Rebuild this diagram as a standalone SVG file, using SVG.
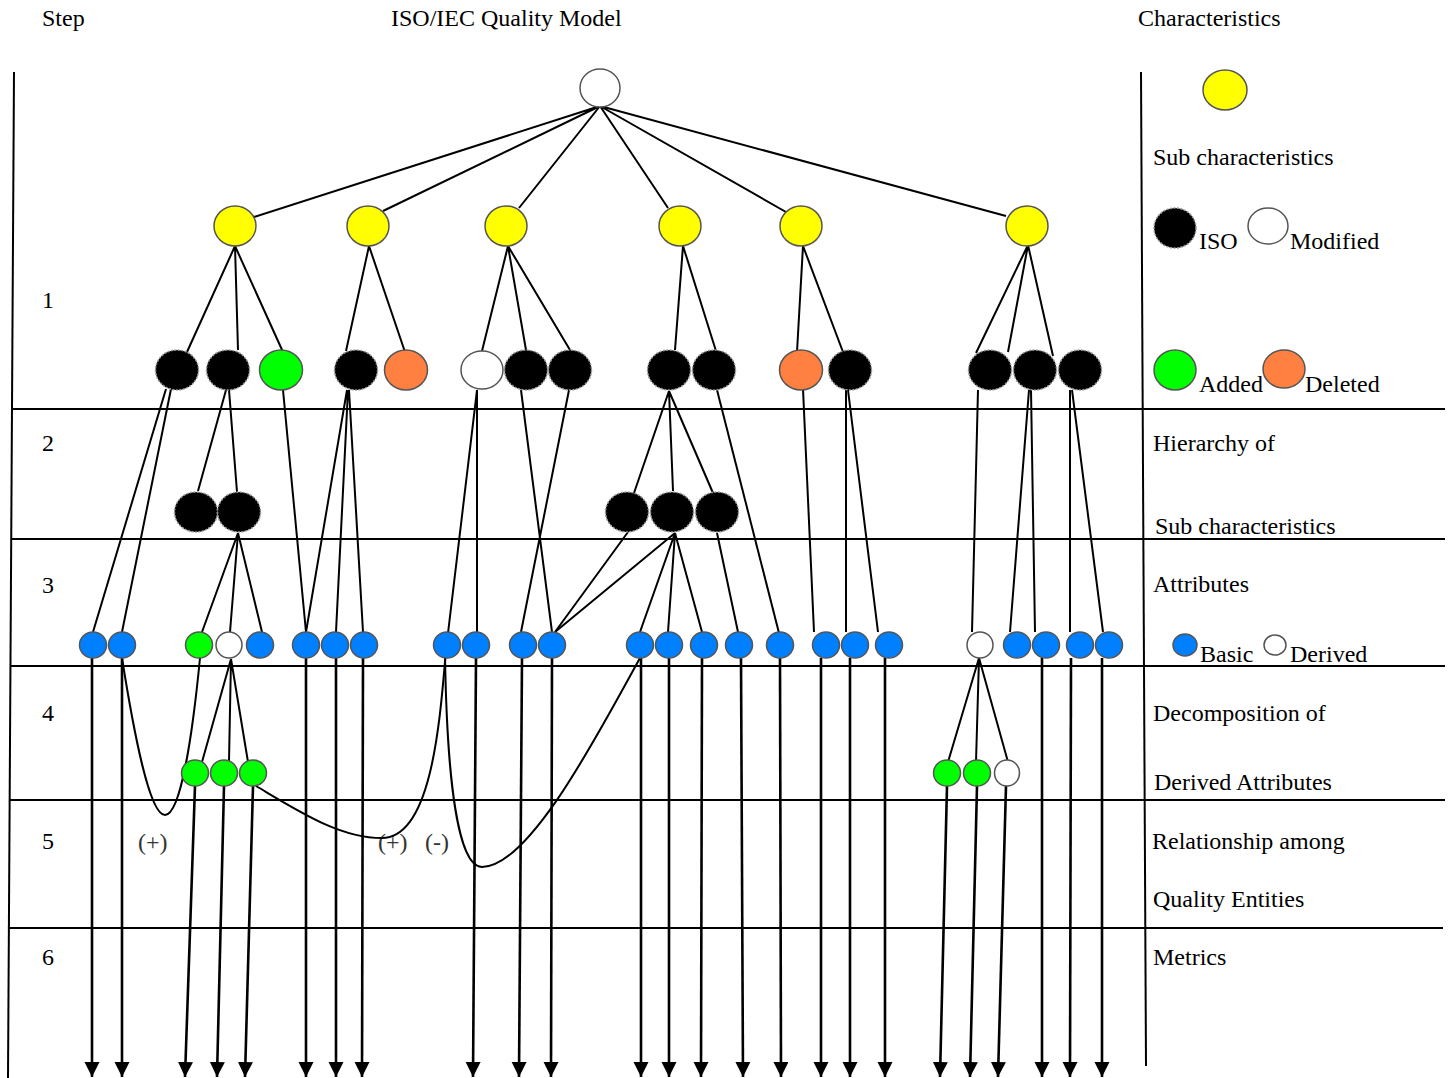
<svg xmlns="http://www.w3.org/2000/svg" width="1448" height="1078" viewBox="0 0 1448 1078">
<defs>
<style>
text{font-family:"Liberation Serif","Times New Roman",serif;font-size:24px;fill:#000}
.rel{fill:#333}
.sep{stroke:#000;stroke-width:2;fill:none}
.c{stroke:#000;stroke-width:2;fill:none}
.a{stroke:#000;stroke-width:2.6;fill:none;marker-end:url(#ah)}
.n{stroke:#555;stroke-width:1.5}
.y{fill:#ffff00}
.k{fill:#000;stroke:#999;stroke-dasharray:2 1.5}
.g{fill:#00ff00}
.o{fill:#ff8040}
.w{fill:#fff}
.b{fill:#0080ff}
</style>
<marker id="ah" markerUnits="userSpaceOnUse" markerWidth="16" markerHeight="16" refX="15" refY="7.5" orient="auto">
<path d="M0,0 L15,7.5 L0,15 z" fill="#000"/>
</marker>
</defs>
<rect width="1448" height="1078" fill="#fff"/>

<g id="grid">
<path class="sep" d="M14,72 L8,1078"/>
<path class="sep" d="M1141,72 L1146,1066"/>
<path class="sep" d="M12,409 L1445,409"/>
<path class="sep" d="M12,539 L1445,539"/>
<path class="sep" d="M10,666 L1445,666"/>
<path class="sep" d="M10,800 L1445,800"/>
<path class="sep" d="M8,928 L1443,928"/>
</g>

<g id="labels">
<text x="42" y="26">Step</text>
<text x="391" y="26">ISO/IEC Quality Model</text>
<text x="1138" y="26">Characteristics</text>
<text x="42" y="308">1</text>
<text x="42" y="451">2</text>
<text x="42" y="593">3</text>
<text x="42" y="721">4</text>
<text x="42" y="849">5</text>
<text x="42" y="965">6</text>
<text x="1153" y="165">Sub characteristics</text>
<text x="1199" y="249">ISO</text>
<text x="1290" y="249">Modified</text>
<text x="1199" y="392">Added</text>
<text x="1305" y="392">Deleted</text>
<text x="1153" y="451">Hierarchy of</text>
<text x="1155" y="534">Sub characteristics</text>
<text x="1153" y="592">Attributes</text>
<text x="1200" y="662">Basic</text>
<text x="1290" y="662">Derived</text>
<text x="1153" y="721">Decomposition of</text>
<text x="1154" y="790">Derived Attributes</text>
<text x="1152" y="849">Relationship among</text>
<text x="1153" y="907">Quality Entities</text>
<text x="1153" y="965">Metrics</text>
<text class="rel" x="138" y="850">(+)</text>
<text class="rel" x="378" y="850">(+)</text>
<text class="rel" x="425" y="850">(-)</text>
</g>

<g id="legend">
<ellipse class="n y" cx="1225" cy="90" rx="22" ry="20"/>
<ellipse class="n k" cx="1175" cy="228" rx="21" ry="20"/>
<ellipse class="n w" cx="1268" cy="226" rx="20" ry="18"/>
<ellipse class="n g" cx="1175" cy="370" rx="21" ry="20"/>
<ellipse class="n o" cx="1284" cy="369" rx="21" ry="19"/>
<ellipse class="n b" cx="1185" cy="645" rx="12" ry="11"/>
<ellipse class="n w" cx="1275" cy="645" rx="11" ry="10"/>
</g>

<g id="connectors">
<path class="c" d="M600,106 L254,217 M600,106 L383,211 M600,106 L519,208 M600,106 L668,208 M600,106 L786,212 M600,106 L1006,216"/>
<path class="c" d="M235,246 L187,352 M235,246 L238,350 M235,246 L283,352"/>
<path class="c" d="M369,246 L346,351 M369,246 L405,352"/>
<path class="c" d="M508,246 L482,351 M508,246 L526,350 M508,246 L570,350"/>
<path class="c" d="M683,246 L675,350 M683,246 L716,351"/>
<path class="c" d="M803,246 L797,352 M803,246 L843,352"/>
<path class="c" d="M1028,245 L976,353 M1028,245 L1008,352 M1028,245 L1053,356"/>
<path class="c" d="M166,389 L93,632 M171,389 L122,632"/>
<path class="c" d="M226,390 L198,491 M229,390 L237,492"/>
<path class="c" d="M283,390 L306,632"/>
<path class="c" d="M347,390 L306,632 M348,390 L336,632 M349,390 L363,632"/>
<path class="c" d="M477,390 L477,632"/>
<path class="c" d="M521,390 L552,632 M569,390 L521,632"/>
<path class="c" d="M669,391 L634,493 M669,391 L673,491 M669,391 L713,493"/>
<path class="c" d="M717,390 L779,633"/>
<path class="c" d="M803,389 L814,632"/>
<path class="c" d="M846,390 L846,632 M848,390 L878,632"/>
<path class="c" d="M978,390 L972,632"/>
<path class="c" d="M1029,390 L1010,632 M1031,390 L1035,632"/>
<path class="c" d="M1070,390 L1070,632 M1072,390 L1103,632"/>
<path class="c" d="M238,533 L202,632 M238,533 L230,632 M238,533 L262,632"/>
<path class="c" d="M628,532 L555,632"/>
<path class="c" d="M675,533 L555,632 M675,533 L640,632 M675,533 L668,632 M675,533 L702,632"/>
<path class="c" d="M717,533 L738,632"/>
<path class="c" d="M231,659 L202,762 M231,659 L229,761 M231,659 L248,762"/>
<path class="c" d="M979,658 L948,762 M979,658 L976,762 M979,658 L1008,762"/>
<path class="c" d="M477,390 L446,650 C440,720 432,838 382,838 C340,838 300,812 256,786"/>
<path class="c" d="M445,655 C447,780 458,867 482,867 C530,867 600,730 640,658"/>
<path class="c" d="M122,658 C135,740 150,815 165,815 C180,815 192,740 200,658"/>
<path class="a" d="M92,658 L92,1077"/>
<path class="a" d="M122,658 L122,1077"/>
<path class="a" d="M306,658 L306,1077"/>
<path class="a" d="M336,658 L336,1077"/>
<path class="a" d="M363,658 L362,1077"/>
<path class="a" d="M476,658 L473,1077"/>
<path class="a" d="M522,658 L519,1077"/>
<path class="a" d="M552,658 L551,1077"/>
<path class="a" d="M641,658 L641,1077"/>
<path class="a" d="M669,658 L669,1077"/>
<path class="a" d="M702,658 L701,1077"/>
<path class="a" d="M741,658 L743,1077"/>
<path class="a" d="M780,658 L781,1077"/>
<path class="a" d="M821,658 L821,1077"/>
<path class="a" d="M850,658 L850,1077"/>
<path class="a" d="M885,658 L885,1077"/>
<path class="a" d="M1042,658 L1042,1077"/>
<path class="a" d="M1071,658 L1070,1077"/>
<path class="a" d="M1102,658 L1102,1077"/>
<path class="a" d="M195,786 L185,1077"/>
<path class="a" d="M224,786 L217,1077"/>
<path class="a" d="M253,786 L245,1077"/>
<path class="a" d="M947,786 L940,1077"/>
<path class="a" d="M977,786 L970,1077"/>
<path class="a" d="M1006,786 L998,1077"/>
</g>

<g id="root"><ellipse class="n w" cx="600" cy="88" rx="20" ry="19"/></g>

<g id="ch1"><ellipse class="n y" cx="235" cy="226" rx="21" ry="20"/></g>
<g id="ch2"><ellipse class="n y" cx="368" cy="226" rx="21" ry="20"/></g>
<g id="ch3"><ellipse class="n y" cx="506" cy="226" rx="21" ry="20"/></g>
<g id="ch4"><ellipse class="n y" cx="680" cy="226" rx="21" ry="20"/></g>
<g id="ch5"><ellipse class="n y" cx="801" cy="226" rx="21" ry="20"/></g>
<g id="ch6"><ellipse class="n y" cx="1027" cy="226" rx="21" ry="20"/></g>

<g id="s1"><ellipse class="n k" cx="177" cy="370" rx="21.5" ry="20"/></g>
<g id="s2"><ellipse class="n k" cx="228" cy="370" rx="21.5" ry="20"/></g>
<g id="s3"><ellipse class="n g" cx="281" cy="370" rx="21.5" ry="20"/></g>
<g id="s4"><ellipse class="n k" cx="356" cy="370" rx="21.5" ry="20"/></g>
<g id="s5"><ellipse class="n o" cx="406" cy="370" rx="21.5" ry="20"/></g>
<g id="s6"><ellipse class="n w" cx="482" cy="370" rx="21" ry="19"/></g>
<g id="s7"><ellipse class="n k" cx="526" cy="370" rx="21.5" ry="20"/></g>
<g id="s8"><ellipse class="n k" cx="570" cy="370" rx="21.5" ry="20"/></g>
<g id="s9"><ellipse class="n k" cx="669" cy="370" rx="21.5" ry="20"/></g>
<g id="s10"><ellipse class="n k" cx="714" cy="370" rx="21.5" ry="20"/></g>
<g id="s11"><ellipse class="n o" cx="801" cy="370" rx="21.5" ry="20"/></g>
<g id="s12"><ellipse class="n k" cx="850" cy="370" rx="21.5" ry="20"/></g>
<g id="s13"><ellipse class="n k" cx="990" cy="370" rx="21.5" ry="20"/></g>
<g id="s14"><ellipse class="n k" cx="1035" cy="370" rx="21.5" ry="20"/></g>
<g id="s15"><ellipse class="n k" cx="1080" cy="370" rx="21.5" ry="20"/></g>

<g id="h1"><ellipse class="n k" cx="196" cy="512" rx="21.5" ry="20"/></g>
<g id="h2"><ellipse class="n k" cx="239" cy="512" rx="21.5" ry="20"/></g>
<g id="h3"><ellipse class="n k" cx="627" cy="512" rx="21.5" ry="20"/></g>
<g id="h4"><ellipse class="n k" cx="672" cy="512" rx="21.5" ry="20"/></g>
<g id="h5"><ellipse class="n k" cx="717" cy="512" rx="21.5" ry="20"/></g>

<g id="a1"><ellipse class="n b" cx="93" cy="645" rx="13.5" ry="13"/></g>
<g id="a2"><ellipse class="n b" cx="122" cy="645" rx="13.5" ry="13"/></g>
<g id="a3"><ellipse class="n g" cx="199" cy="645" rx="13.5" ry="13"/></g>
<g id="a4"><ellipse class="n w" cx="229" cy="645" rx="13" ry="13"/></g>
<g id="a5"><ellipse class="n b" cx="260" cy="645" rx="13.5" ry="13"/></g>
<g id="a6"><ellipse class="n b" cx="306" cy="645" rx="13.5" ry="13"/></g>
<g id="a7"><ellipse class="n b" cx="335" cy="645" rx="13.5" ry="13"/></g>
<g id="a8"><ellipse class="n b" cx="364" cy="645" rx="13.5" ry="13"/></g>
<g id="a9"><ellipse class="n b" cx="447" cy="645" rx="13.5" ry="13"/></g>
<g id="a10"><ellipse class="n b" cx="476" cy="645" rx="13.5" ry="13"/></g>
<g id="a11"><ellipse class="n b" cx="523" cy="645" rx="13.5" ry="13"/></g>
<g id="a12"><ellipse class="n b" cx="552" cy="645" rx="13.5" ry="13"/></g>
<g id="a13"><ellipse class="n b" cx="640" cy="645" rx="13.5" ry="13"/></g>
<g id="a14"><ellipse class="n b" cx="669" cy="645" rx="13.5" ry="13"/></g>
<g id="a15"><ellipse class="n b" cx="704" cy="645" rx="13.5" ry="13"/></g>
<g id="a16"><ellipse class="n b" cx="739" cy="645" rx="13.5" ry="13"/></g>
<g id="a17"><ellipse class="n b" cx="780" cy="645" rx="13.5" ry="13"/></g>
<g id="a18"><ellipse class="n b" cx="826" cy="645" rx="13.5" ry="13"/></g>
<g id="a19"><ellipse class="n b" cx="855" cy="645" rx="13.5" ry="13"/></g>
<g id="a20"><ellipse class="n b" cx="889" cy="645" rx="13.5" ry="13"/></g>
<g id="a21"><ellipse class="n w" cx="980" cy="645" rx="13" ry="13"/></g>
<g id="a22"><ellipse class="n b" cx="1017" cy="645" rx="13.5" ry="13"/></g>
<g id="a23"><ellipse class="n b" cx="1046" cy="645" rx="13.5" ry="13"/></g>
<g id="a24"><ellipse class="n b" cx="1080" cy="645" rx="13.5" ry="13"/></g>
<g id="a25"><ellipse class="n b" cx="1109" cy="645" rx="13.5" ry="13"/></g>

<g id="d1"><ellipse class="n g" cx="195" cy="773" rx="13.5" ry="13"/></g>
<g id="d2"><ellipse class="n g" cx="224" cy="773" rx="13.5" ry="13"/></g>
<g id="d3"><ellipse class="n g" cx="253" cy="773" rx="13.5" ry="13"/></g>
<g id="d4"><ellipse class="n g" cx="947" cy="773" rx="13.5" ry="13"/></g>
<g id="d5"><ellipse class="n g" cx="977" cy="773" rx="13.5" ry="13"/></g>
<g id="d6"><ellipse class="n w" cx="1007" cy="773" rx="12.5" ry="13"/></g>
</svg>
